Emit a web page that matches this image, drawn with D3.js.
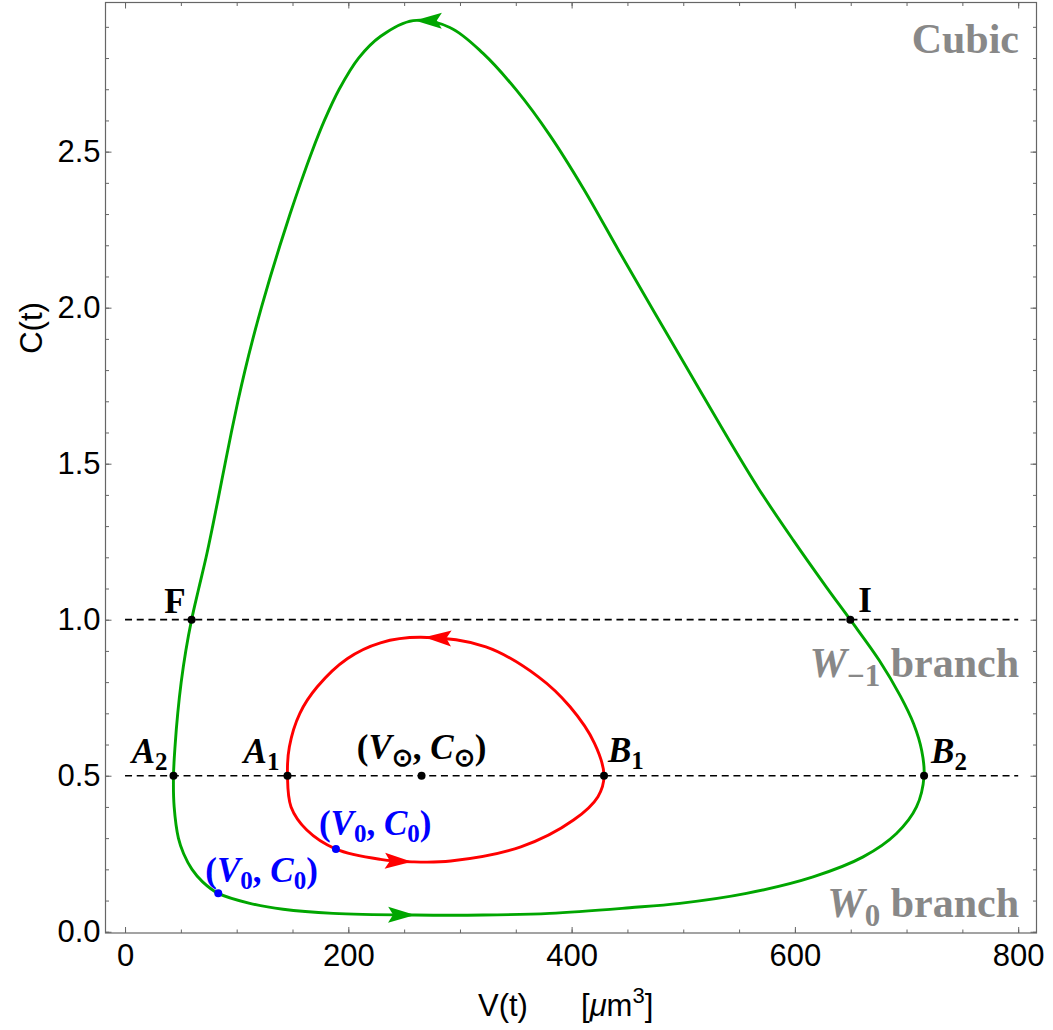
<!DOCTYPE html>
<html>
<head>
<meta charset="utf-8">
<script src="https://cdn.jsdelivr.net/npm/d3@7"></script>
<style>
  html, body { margin: 0; padding: 0; background: #fff; }
  svg { display: block; }
</style>
</head>
<body>
<div id="chart"></div>
<script>
// orbits, in the order they are travelled: [V, C]
var greenOrbit = [
  [83.5, 0.123], [111.8, 0.091], [141.6, 0.072], [186.4, 0.059], [259.6, 0.0535],
  [320.7, 0.0535], [380.4, 0.059], [452, 0.077], [496.9, 0.091], [556.6, 0.123],
  [616.3, 0.176], [661.1, 0.24], [691, 0.315], [708.9, 0.40], [715.7, 0.5],
  [713.6, 0.58], [706.5, 0.665], [694.5, 0.755], [675.5, 0.870], [649.6, 1.0],
  [628.5, 1.103], [598.5, 1.255], [567.5, 1.420], [536.5, 1.603], [505.5, 1.793],
  [474.5, 1.983], [442.5, 2.181], [410.5, 2.382], [380.4, 2.553], [350.6, 2.697],
  [320.7, 2.815], [290.9, 2.898], [258.1, 2.92], [229, 2.87], [209.2, 2.8],
  [191.8, 2.7], [178.6, 2.6], [167.4, 2.5], [157.3, 2.4], [147.8, 2.3],
  [138.8, 2.2], [130.2, 2.1], [122.1, 2.0], [114.5, 1.9], [107.5, 1.8],
  [101.1, 1.7], [95.2, 1.6], [89.6, 1.5], [84.1, 1.4], [78.5, 1.3],
  [72.6, 1.2], [66.0, 1.1], [59.6, 1.0], [54.4, 0.9], [50.3, 0.8],
  [47.2, 0.7], [44.9, 0.6], [43.4, 0.5], [44.0, 0.4], [47.8, 0.3],
  [52.5, 0.25], [60.0, 0.2], [69.5, 0.16]
];
var redOrbit = [
  [188.9, 0.265], [228.8, 0.232], [257.1, 0.224], [291.7, 0.2266], [354.5, 0.272],
  [401.7, 0.358], [423.6, 0.433], [429, 0.5], [420.5, 0.604], [398.6, 0.721],
  [370.3, 0.817], [323.2, 0.913], [265, 0.9436], [228.8, 0.926], [199, 0.875],
  [172.2, 0.785], [156.6, 0.70], [147.2, 0.593], [145.5, 0.5], [148.7, 0.40],
  [162.8, 0.326]
];
var greenArrows = [[259.6, 0.0535], [259.6, 2.92]];
var redArrows = [[257.1, 0.224], [268.2, 0.9436]];

var levels = [0.5, 1.0];
var levelSpan = [0, 800];

// named points on the level lines
var markedPoints = [
  { name: "F", v: 59.6, c: 1.0 },
  { name: "I", v: 649.6, c: 1.0 },
  { name: "A2", v: 43.4, c: 0.5 },
  { name: "A1", v: 145.5, c: 0.5 },
  { name: "Vc", v: 265.6, c: 0.5 },
  { name: "B1", v: 429, c: 0.5 },
  { name: "B2", v: 715.7, c: 0.5 }
];
var initialPoints = [
  { name: "green", v: 83.5, c: 0.123 },
  { name: "red", v: 188.9, c: 0.265 }
];

var xMajor = [0, 200, 400, 600, 800];
var xMinor = d3.range(0, 801, 50);
var yMajor = [0.0, 0.5, 1.0, 1.5, 2.0, 2.5];
var yMinor = d3.range(0, 30).map(function(i) { return i / 10; });

(function() {

  var width = 1053, height = 1030;
  var fLeft = 105.5, fRight = 1036.5, fTop = 2.5, fBottom = 933;

  var svg = d3.select("#chart").append("svg")
    .attr("width", width)
    .attr("height", height);

  var x = d3.scaleLinear().domain([-17.5, 816.4]).range([fLeft, fRight]);
  var y = d3.scaleLinear().domain([-0.004, 2.978]).range([fBottom, fTop]);

  var frameColor = "#666";
  var sans = "'Liberation Sans', Arial, sans-serif";
  var serif = "'Liberation Serif', 'Times New Roman', serif";

  function styleAxis(g) {
    g.select(".domain").remove();
    g.selectAll(".tick line").attr("stroke", frameColor).attr("stroke-width", 1);
    g.selectAll(".tick text").attr("fill", "#000").style("font-family", sans).style("font-size", "31px");
  }

  // minor ticks, all four sides
  svg.append("g").attr("transform", "translate(0," + fBottom + ")")
    .call(d3.axisBottom(x).tickValues(xMinor).tickSize(-3.5).tickFormat("")).call(styleAxis);
  svg.append("g").attr("transform", "translate(0," + fTop + ")")
    .call(d3.axisTop(x).tickValues(xMinor).tickSize(-3.5).tickFormat("")).call(styleAxis);
  svg.append("g").attr("transform", "translate(" + fLeft + ",0)")
    .call(d3.axisLeft(y).tickValues(yMinor).tickSize(-3.5).tickFormat("")).call(styleAxis);
  svg.append("g").attr("transform", "translate(" + fRight + ",0)")
    .call(d3.axisRight(y).tickValues(yMinor).tickSize(-3.5).tickFormat("")).call(styleAxis);

  // major ticks
  svg.append("g").attr("transform", "translate(0," + fBottom + ")")
    .call(d3.axisBottom(x).tickValues(xMajor).tickSize(-6).tickPadding(11).tickFormat(d3.format("d"))).call(styleAxis);
  svg.append("g").attr("transform", "translate(0," + fTop + ")")
    .call(d3.axisTop(x).tickValues(xMajor).tickSize(-6).tickFormat("")).call(styleAxis);
  svg.append("g").attr("transform", "translate(" + fLeft + ",0)")
    .call(d3.axisLeft(y).tickValues(yMajor).tickSize(-6).tickPadding(5).tickFormat(d3.format(".1f"))).call(styleAxis);
  svg.append("g").attr("transform", "translate(" + fRight + ",0)")
    .call(d3.axisRight(y).tickValues(yMajor).tickSize(-6).tickFormat("")).call(styleAxis);

  svg.append("rect")
    .attr("x", fLeft).attr("y", fTop)
    .attr("width", fRight - fLeft).attr("height", fBottom - fTop)
    .attr("fill", "none").attr("stroke", frameColor).attr("stroke-width", 1.2);

  // axis titles
  svg.append("text")
    .attr("transform", "translate(42,328) rotate(-90)")
    .attr("text-anchor", "middle")
    .style("font-family", sans).style("font-size", "31px")
    .text("C(t)");

  var xt = svg.append("text")
    .attr("x", 478).attr("y", 1016)
    .style("font-family", sans).style("font-size", "31px");
  xt.append("tspan").text("V(t)");
  xt.append("tspan").attr("x", 581).text("[");
  xt.append("tspan").style("font-style", "italic").text("\u03bc");
  xt.append("tspan").text("m");
  xt.append("tspan").attr("dy", -13).style("font-size", "22px").text("3");
  xt.append("tspan").attr("dy", 13).text("]");

  // dashed level lines
  svg.selectAll(".level").data(levels).enter().append("line")
    .attr("x1", x(levelSpan[0])).attr("x2", x(levelSpan[1]))
    .attr("y1", d => y(d)).attr("y2", d => y(d))
    .attr("stroke", "#000").attr("stroke-width", 1.7)
    .attr("stroke-dasharray", "7,4.7");

  var line = d3.line()
    .x(d => x(d[0]))
    .y(d => y(d[1]))
    .curve(d3.curveCatmullRomClosed.alpha(0.5));

  var green = "#00a600", red = "#ff0000", blue = "#0000ff";

  var greenPath = svg.append("path").datum(greenOrbit)
    .attr("d", line).attr("fill", "none")
    .attr("stroke", green).attr("stroke-width", 2.9);
  var redPath = svg.append("path").datum(redOrbit)
    .attr("d", line).attr("fill", "none")
    .attr("stroke", red).attr("stroke-width", 2.9);

  function drawArrow(pathNode, tip, color) {
    var tx = x(tip[0]), ty = y(tip[1]);
    var total = pathNode.getTotalLength();
    var best = 0, bestD = Infinity;
    for (var l = 0; l <= total; l += 0.5) {
      var p = pathNode.getPointAtLength(l);
      var d = (p.x - tx) * (p.x - tx) + (p.y - ty) * (p.y - ty);
      if (d < bestD) { bestD = d; best = l; }
    }
    var p1 = pathNode.getPointAtLength(best);
    var p0 = pathNode.getPointAtLength(best >= 10 ? best - 10 : best + total - 10);
    var a = Math.atan2(p1.y - p0.y, p1.x - p0.x) * 180 / Math.PI;
    svg.append("path")
      .attr("d", "M0,0L-27,-8L-22,0L-27,8Z")
      .attr("transform", "translate(" + p1.x + "," + p1.y + ") rotate(" + a + ")")
      .attr("fill", color);
  }
  greenArrows.forEach(t => drawArrow(greenPath.node(), t, green));
  redArrows.forEach(t => drawArrow(redPath.node(), t, red));

  // points
  svg.selectAll(".mark").data(markedPoints).enter().append("circle")
    .attr("cx", d => x(d.v)).attr("cy", d => y(d.c)).attr("r", 4).attr("fill", "#000");
  svg.selectAll(".init").data(initialPoints).enter().append("circle")
    .attr("cx", d => x(d.v)).attr("cy", d => y(d.c)).attr("r", 4).attr("fill", blue);

  // point labels
  var labelStyle = {
    F:  { dx: -6, dy: -7, anchor: "end", main: "F", sub: null, italic: false },
    I:  { dx: 8, dy: -8, anchor: "start", main: "I", sub: null, italic: false },
    A2: { dx: -6, dy: -13, anchor: "end", main: "A", sub: "2", italic: true },
    A1: { dx: -8, dy: -13, anchor: "end", main: "A", sub: "1", italic: true },
    B1: { dx: 4, dy: -14, anchor: "start", main: "B", sub: "1", italic: true },
    B2: { dx: 7, dy: -13, anchor: "start", main: "B", sub: "2", italic: true }
  };

  function serifText(px, py, anchor, color) {
    return svg.append("text")
      .attr("x", px).attr("y", py)
      .attr("text-anchor", anchor)
      .attr("fill", color)
      .style("font-family", serif).style("font-size", "35px").style("font-weight", "bold");
  }

  markedPoints.forEach(function(p) {
    var s = labelStyle[p.name];
    if (!s) return;
    var t = serifText(x(p.v) + s.dx, y(p.c) + s.dy, s.anchor, "#000");
    t.append("tspan").style("font-style", s.italic ? "italic" : "normal").text(s.main);
    if (s.sub) t.append("tspan").attr("dy", 7).style("font-size", "25px").text(s.sub);
  });

  function pairLabel(px, py, anchor, color, sub) {
    var t = serifText(px, py, anchor, color);
    t.append("tspan").text("(");
    t.append("tspan").style("font-style", "italic").text("V");
    t.append("tspan").attr("dy", 7).style("font-size", "25px").text(sub);
    t.append("tspan").attr("dy", -7).text(", ");
    t.append("tspan").style("font-style", "italic").text("C");
    t.append("tspan").attr("dy", 7).style("font-size", "25px").text(sub);
    t.append("tspan").attr("dy", -7).text(")");
    return t;
  }

  var center = markedPoints.find(p => p.name === "Vc");
  pairLabel(x(center.v), y(center.c) - 17, "middle", "#000", "\u2299");
  pairLabel(x(initialPoints[1].v) - 17, y(initialPoints[1].c) - 14, "start", blue, "0");
  pairLabel(x(initialPoints[0].v) - 13, y(initialPoints[0].c) - 11, "start", blue, "0");

  // branch annotations
  function grayLabel(py) {
    return svg.append("text")
      .attr("x", 1019).attr("y", py)
      .attr("text-anchor", "end")
      .attr("fill", "#888")
      .style("font-family", serif).style("font-size", "42px").style("font-weight", "bold");
  }
  grayLabel(53).text("Cubic");
  var w1 = grayLabel(677);
  w1.append("tspan").style("font-style", "italic").text("W");
  w1.append("tspan").attr("dy", 9).style("font-size", "31px").text("\u22121");
  w1.append("tspan").attr("dy", -9).text(" branch");
  var w0 = grayLabel(917);
  w0.append("tspan").style("font-style", "italic").text("W");
  w0.append("tspan").attr("dy", 9).style("font-size", "31px").text("0");
  w0.append("tspan").attr("dy", -9).text(" branch");

})();
</script>
</body>
</html>
